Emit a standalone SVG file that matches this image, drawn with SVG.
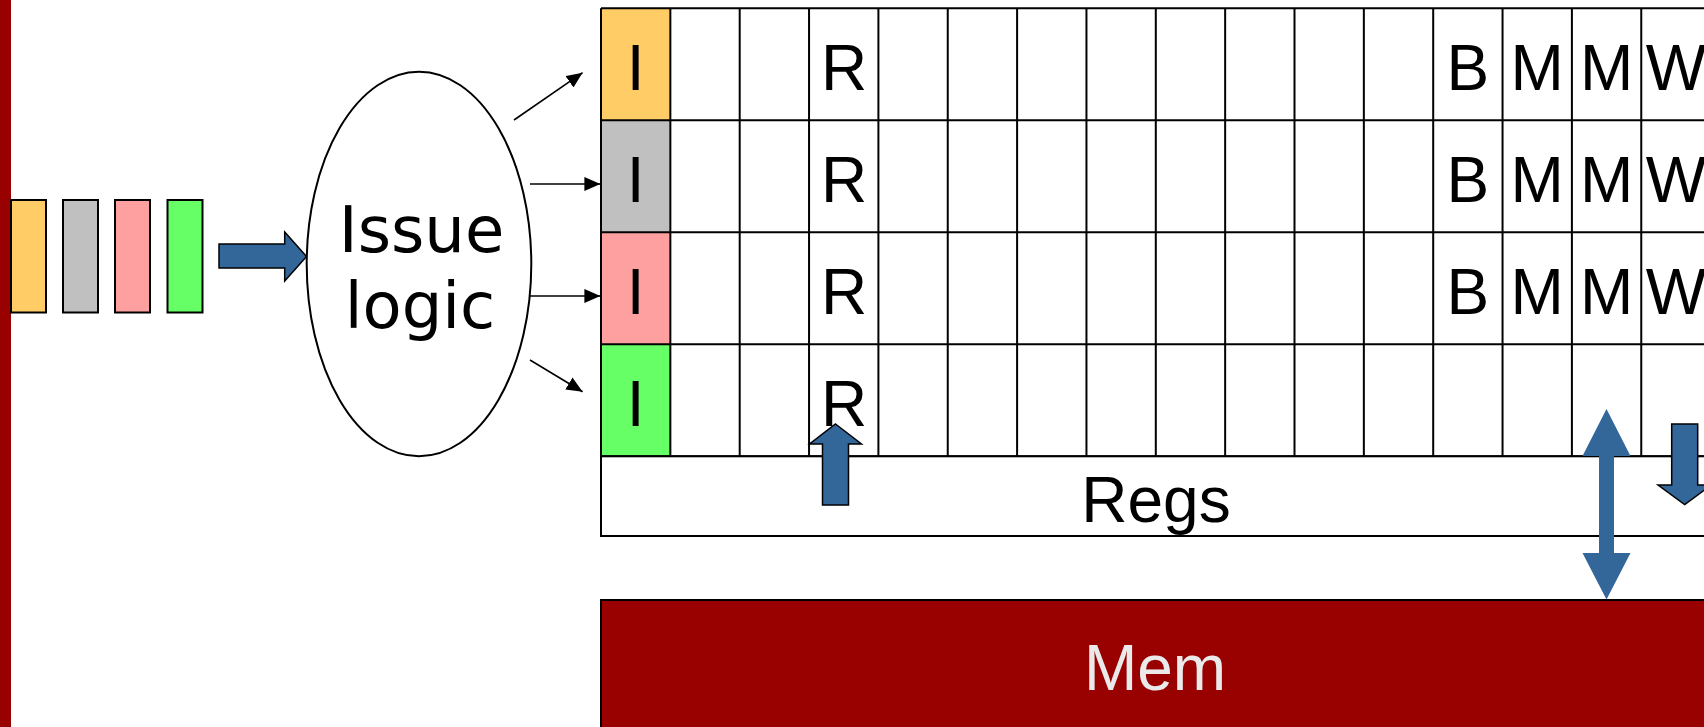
<svg xmlns="http://www.w3.org/2000/svg" width="1704" height="727" viewBox="0 0 1704 727">
<style>
text{font-family:"Liberation Sans",Arial,sans-serif;font-size:64px;fill:#000;text-anchor:middle}
.il{font-family:"DejaVu Sans","Liberation Sans",sans-serif;font-size:64px}
.cell{fill:none;stroke:#000;stroke-width:2}
.blk{stroke:#000;stroke-width:2}
.bluearrow{fill:#336699;stroke:#000;stroke-width:1.5;stroke-linejoin:miter}
.thin{stroke:#000;stroke-width:1.6;fill:none}
.y{fill:#FFCC66}.g{fill:#C0C0C0}.p{fill:#FFA0A0}.gr{fill:#66FF66}
</style>
<defs>
<marker id="ah" markerUnits="userSpaceOnUse" markerWidth="18" markerHeight="14" refX="16" refY="7" orient="auto">
<path d="M0,0 L16,7 L0,14 Z" fill="#000"/>
</marker>
</defs>
<rect x="0" y="0" width="1704" height="727" fill="#fff"/>
<rect x="0" y="0" width="11" height="727" fill="#990000"/>

<g id="instructions">
<rect class="y blk" x="11" y="200" width="35" height="112.5"/>
<rect class="g blk" x="63" y="200" width="35" height="112.5"/>
<rect class="p blk" x="115" y="200" width="35" height="112.5"/>
<rect class="gr blk" x="167.5" y="200" width="35" height="112.5"/>
</g>

<g id="issue-logic">
<ellipse cx="419" cy="264" rx="112.3" ry="192.2" fill="#fff" stroke="#000" stroke-width="2"/>
<text class="il" x="421.5" y="251.7">Issue</text>
<text class="il" x="420" y="328.3">logic</text>
</g>

<g id="row0">
<rect class="y" x="601" y="8.3" width="69.35" height="112"/>
<text x="635.7" y="90">I</text><text x="844.1" y="90">R</text>
<text x="1467.9" y="90">B</text><text x="1537.2" y="90">M</text><text x="1606.6" y="90">M</text><text x="1676" y="90">W</text>
</g>
<g id="row1">
<rect class="g" x="601" y="120.3" width="69.35" height="112"/>
<text x="635.7" y="202">I</text><text x="844.1" y="202">R</text>
<text x="1467.9" y="202">B</text><text x="1537.2" y="202">M</text><text x="1606.6" y="202">M</text><text x="1676" y="202">W</text>
</g>
<g id="row2">
<rect class="p" x="601" y="232.3" width="69.35" height="112"/>
<text x="635.7" y="314">I</text><text x="844.1" y="314">R</text>
<text x="1467.9" y="314">B</text><text x="1537.2" y="314">M</text><text x="1606.6" y="314">M</text><text x="1676" y="314">W</text>
</g>
<g id="row3">
<rect class="gr" x="601" y="344.3" width="69.35" height="112"/>
<text x="635.7" y="426">I</text><text x="844.1" y="426">R</text>
</g>

<g id="grid-lines" stroke="#000" stroke-width="2">
<line x1="601" y1="8.3" x2="1712" y2="8.3"/>
<line x1="601" y1="120.3" x2="1712" y2="120.3"/>
<line x1="601" y1="232.3" x2="1712" y2="232.3"/>
<line x1="601" y1="344.3" x2="1712" y2="344.3"/>
<line x1="601" y1="456.3" x2="1712" y2="456.3"/>
<line x1="601" y1="8.3" x2="601" y2="456.3"/>
<line x1="670.35" y1="8.3" x2="670.35" y2="456.3"/>
<line x1="739.7" y1="8.3" x2="739.7" y2="456.3"/>
<line x1="809.05" y1="8.3" x2="809.05" y2="456.3"/>
<line x1="878.4" y1="8.3" x2="878.4" y2="456.3"/>
<line x1="947.75" y1="8.3" x2="947.75" y2="456.3"/>
<line x1="1017.1" y1="8.3" x2="1017.1" y2="456.3"/>
<line x1="1086.45" y1="8.3" x2="1086.45" y2="456.3"/>
<line x1="1155.8" y1="8.3" x2="1155.8" y2="456.3"/>
<line x1="1225.15" y1="8.3" x2="1225.15" y2="456.3"/>
<line x1="1294.5" y1="8.3" x2="1294.5" y2="456.3"/>
<line x1="1363.85" y1="8.3" x2="1363.85" y2="456.3"/>
<line x1="1433.2" y1="8.3" x2="1433.2" y2="456.3"/>
<line x1="1502.55" y1="8.3" x2="1502.55" y2="456.3"/>
<line x1="1571.9" y1="8.3" x2="1571.9" y2="456.3"/>
<line x1="1641.25" y1="8.3" x2="1641.25" y2="456.3"/>
</g>

<g id="regs">
<rect x="601" y="456.3" width="1110" height="79.7" fill="#fff" stroke="#000" stroke-width="2"/>
<text x="1156" y="521.7">Regs</text>
</g>

<g id="mem">
<rect x="601" y="600" width="1110" height="140" fill="#990000" stroke="#000" stroke-width="2"/>
<text x="1155" y="690" style="fill:#EAEAEA">Mem</text>
</g>

<g id="connectors">
<polygon class="bluearrow" points="219,244 284.7,244 284.7,232 306.5,256.5 284.7,281 284.7,268 219,268"/>
<line class="thin" x1="514" y1="120" x2="582.6" y2="72.7" marker-end="url(#ah)"/>
<line class="thin" x1="530" y1="184" x2="600.4" y2="184" marker-end="url(#ah)"/>
<line class="thin" x1="530" y1="296" x2="600.4" y2="296" marker-end="url(#ah)"/>
<line class="thin" x1="530" y1="360" x2="582.6" y2="391.7" marker-end="url(#ah)"/>
<polygon class="bluearrow" points="835.5,424 861.5,444 848.5,444 848.5,505 822.5,505 822.5,444 809.5,444"/>
<polygon fill="#336699" points="1606.5,409 1630.5,456 1614,456 1614,553 1630.5,553 1606.5,599.5 1582.5,553 1599,553 1599,456 1582.5,456"/>
<polygon class="bluearrow" points="1671.7,424 1697.7,424 1697.7,485 1711.4,485 1684.7,504.5 1658,485 1671.7,485"/>
</g>
</svg>
